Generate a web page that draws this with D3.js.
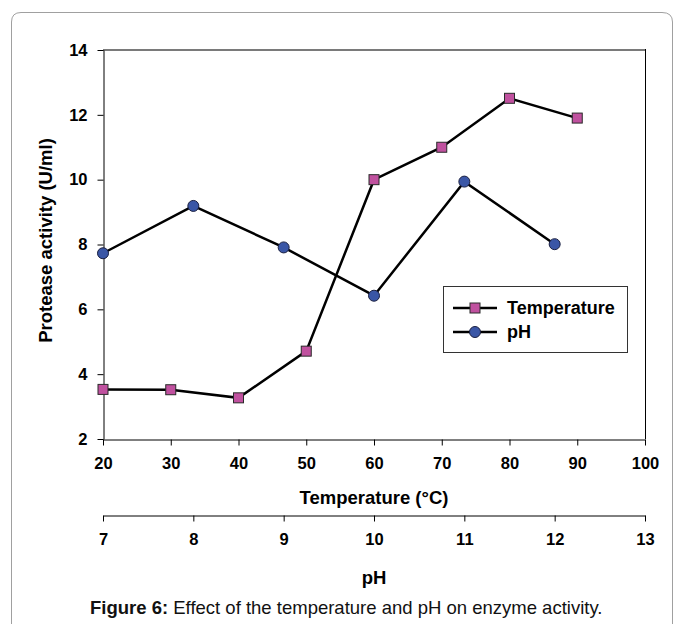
<!DOCTYPE html>
<html>
<head>
<meta charset="utf-8">
<script src="https://cdn.jsdelivr.net/npm/d3@7"></script>
<style>
html,body{margin:0;padding:0;background:#fff;}
svg{display:block;}
text{font-family:"Liberation Sans",Arial,sans-serif;}
</style>
</head>
<body>
<svg id="chart" width="683" height="624"></svg>
<script>
// ---- data ----
const tempX = [20, 30, 40, 50, 60, 70, 80, 90];
const tempY = [3.53, 3.52, 3.27, 4.71, 10.0, 11.0, 12.51, 11.9];
const phX = [7, 8, 9, 10, 11, 12];
const phY = [7.73, 9.19, 7.91, 6.42, 9.94, 8.01];
const yTicks = [2, 4, 6, 8, 10, 12, 14];
const tempTicks = [20, 30, 40, 50, 60, 70, 80, 90, 100];
const phTicks = [7, 8, 9, 10, 11, 12, 13];
const seriesNames = ["Temperature", "pH"];
const yTitle = "Protease activity (U/ml)";
const tempTitle = "Temperature (°C)";
const phTitle = "pH";

const svg = d3.select("#chart");
const L = 103, R = 645, T = 50, B = 439;

const x = d3.scaleLinear().domain([20, 100]).range([L, R]);
const xph = d3.scaleLinear().domain([7, 13]).range([L, R]);
const y = d3.scaleLinear().domain([2, 14]).range([B, T]);

// outer frame
svg.append("path")
  .attr("d", "M11.5,630 L11.5,22 Q11.5,12.5 21,12.5 L662,12.5 Q672.5,12.5 672.5,22 L672.5,630")
  .attr("fill", "none").attr("stroke", "#a0a0a0").attr("stroke-width", 1);

// plot area border: top grey, right black
svg.append("line").attr("x1", L).attr("x2", R).attr("y1", T).attr("y2", T)
  .attr("stroke", "#7a7a7a").attr("stroke-width", 2);
svg.append("line").attr("x1", R + 0.5).attr("x2", R + 0.5).attr("y1", T - 1).attr("y2", B)
  .attr("stroke", "#000").attr("stroke-width", 1);

function styleAxis(g) {
  g.selectAll("path.domain").attr("stroke", "#000").attr("stroke-width", 1);
  g.selectAll(".tick line").attr("stroke", "#000").attr("stroke-width", 1);
  g.selectAll(".tick text").attr("font-family", "Liberation Sans, Arial, sans-serif")
    .attr("font-size", 16.5).attr("font-weight", "bold").attr("fill", "#000");
}

// y axis
const gy = svg.append("g").attr("transform", `translate(${L + 0.5},0)`)
  .call(d3.axisLeft(y).tickValues(yTicks).tickSize(6).tickSizeOuter(0).tickPadding(10).tickFormat(d3.format("d")));
styleAxis(gy);

// temperature axis
const gx = svg.append("g").attr("transform", `translate(0,${B + 0.5})`)
  .call(d3.axisBottom(x).tickValues(tempTicks).tickSize(6).tickSizeOuter(0).tickPadding(12).tickFormat(d3.format("d")));
styleAxis(gx);

// pH axis
const gp = svg.append("g").attr("transform", `translate(0,${515.5})`)
  .call(d3.axisBottom(xph).tickValues(phTicks).tickSize(6).tickSizeOuter(0).tickPadding(12).tickFormat(d3.format("d")));
styleAxis(gp);

// axis titles
svg.append("text").attr("transform", `translate(45,${(T + B) / 2 - 4}) rotate(-90)`)
  .attr("text-anchor", "middle").attr("dominant-baseline", "central")
  .attr("font-size", 18.5).attr("font-weight", "bold").text(yTitle);
svg.append("text").attr("x", (L + R) / 2).attr("y", 497)
  .attr("text-anchor", "middle").attr("dominant-baseline", "central")
  .attr("font-size", 18.5).attr("font-weight", "bold").text(tempTitle);
svg.append("text").attr("x", (L + R) / 2).attr("y", 577)
  .attr("text-anchor", "middle").attr("dominant-baseline", "central")
  .attr("font-size", 18.5).attr("font-weight", "bold").text(phTitle);

// caption
const cap = svg.append("text").attr("x", 90).attr("y", 614).attr("font-size", 18.5).attr("fill", "#111");
cap.append("tspan").attr("font-weight", "bold").text("Figure 6:");
cap.append("tspan").text(" Effect of the temperature and pH on enzyme activity.");

// series
const tempData = tempX.map((d, i) => [d, tempY[i]]);
const phData = phX.map((d, i) => [d, phY[i]]);
const sqColor = "#C0519F", ciColor = "#3A56A6";

svg.append("path").datum(tempData)
  .attr("d", d3.line().x(d => x(d[0])).y(d => y(d[1])))
  .attr("fill", "none").attr("stroke", "#000").attr("stroke-width", 2.5);
svg.append("path").datum(phData)
  .attr("d", d3.line().x(d => xph(d[0])).y(d => y(d[1])))
  .attr("fill", "none").attr("stroke", "#000").attr("stroke-width", 2.5);

const sq = 10;
svg.selectAll("rect.tm").data(tempData).enter().append("rect").attr("class", "tm")
  .attr("x", d => x(d[0]) - sq / 2).attr("y", d => y(d[1]) - sq / 2)
  .attr("width", sq).attr("height", sq)
  .attr("fill", sqColor).attr("stroke", "#2a2a2a").attr("stroke-width", 1);
svg.selectAll("circle.ph").data(phData).enter().append("circle").attr("class", "ph")
  .attr("cx", d => xph(d[0])).attr("cy", d => y(d[1])).attr("r", 5.5)
  .attr("fill", ciColor).attr("stroke", "#1a1f40").attr("stroke-width", 1);

// legend
const lg = svg.append("g");
lg.append("rect").attr("x", 443.5).attr("y", 286.5).attr("width", 184).attr("height", 66)
  .attr("fill", "#fff").attr("stroke", "#333").attr("stroke-width", 1);
const rows = [308, 332];
seriesNames.forEach((name, i) => {
  const ry = rows[i];
  lg.append("line").attr("x1", 453).attr("x2", 497).attr("y1", ry).attr("y2", ry)
    .attr("stroke", "#000").attr("stroke-width", 2.5);
  if (i === 0) {
    lg.append("rect").attr("x", 475 - sq / 2).attr("y", ry - sq / 2).attr("width", sq).attr("height", sq)
      .attr("fill", sqColor).attr("stroke", "#2a2a2a");
  } else {
    lg.append("circle").attr("cx", 475).attr("cy", ry).attr("r", 5.5)
      .attr("fill", ciColor).attr("stroke", "#1a1f40");
  }
  lg.append("text").attr("x", 507).attr("y", ry).attr("dominant-baseline", "central")
    .attr("font-size", 18).attr("font-weight", "bold").text(name);
});
</script>
</body>
</html>
